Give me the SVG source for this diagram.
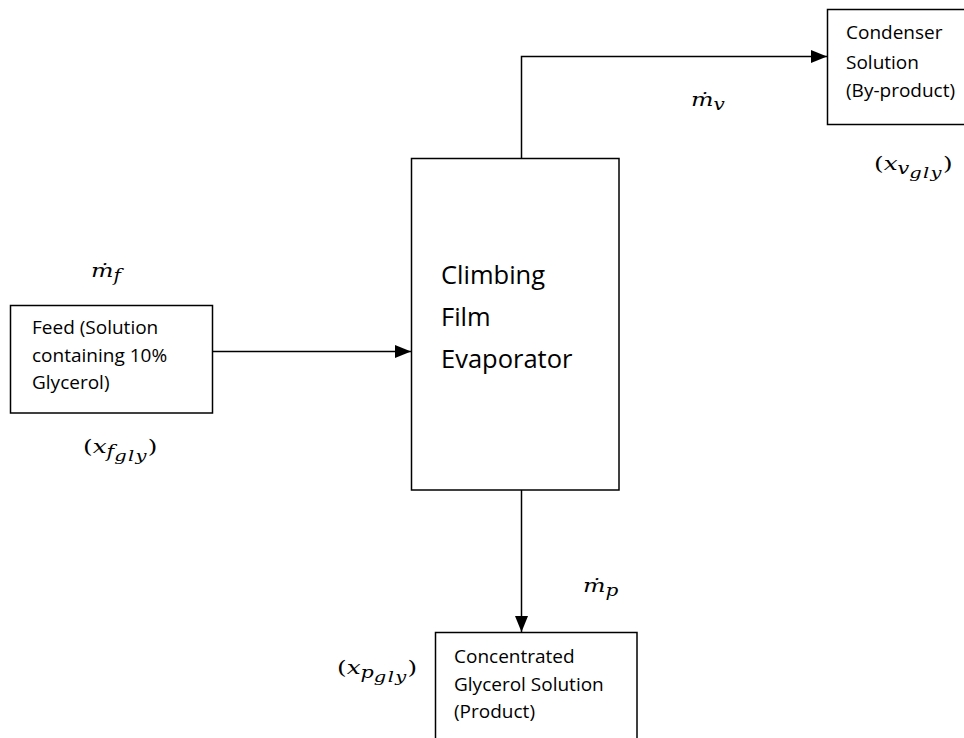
<svg xmlns="http://www.w3.org/2000/svg" width="964" height="738" viewBox="0 0 964 738">
<style>
.box{fill:#fff;stroke:#000;stroke-width:1.5}
.line{fill:none;stroke:#000;stroke-width:1.5}
.t{font-family:"Open Sans","Liberation Sans",sans-serif;font-size:19px;fill:#000}
.big{font-size:25.5px}
.m{font-family:"DejaVu Serif","Liberation Serif",serif;font-style:italic;font-size:19px;fill:#000}
.up{font-style:normal}
.s{font-size:16px}
.ss{font-size:15px;letter-spacing:1px}
</style>
<defs>
<marker id="ah" viewBox="0 0 16 13" refX="16" refY="6.5" markerWidth="16" markerHeight="13" markerUnits="userSpaceOnUse" orient="auto">
<path d="M0,0 L16,6.5 L0,13 Z" fill="#000"/>
</marker>
</defs>
<rect width="964" height="738" fill="#fff"/>
<g id="connectors">
<path class="line" d="M521.5,158 V56.5 H827" marker-end="url(#ah)"/>
<path class="line" d="M213,351.5 H411" marker-end="url(#ah)"/>
<path class="line" d="M521.5,490 V632" marker-end="url(#ah)"/>
</g>
<g id="feed">
<rect class="box" x="10.5" y="305.5" width="202" height="107.5"/>
<text class="t"><tspan x="32" y="334">Feed (Solution</tspan><tspan x="32" y="362">containing 10%</tspan><tspan x="32" y="389">Glycerol)</tspan></text>
</g>
<g id="evaporator">
<rect class="box" x="411.5" y="158.5" width="207.5" height="331.5"/>
<text class="t big"><tspan x="441" y="284">Climbing</tspan><tspan x="441" y="326">Film</tspan><tspan x="441" y="368">Evaporator</tspan></text>
</g>
<g id="condenser">
<rect class="box" x="827.5" y="9.5" width="150" height="115"/>
<text class="t"><tspan x="846" y="39">Condenser</tspan><tspan x="846" y="69">Solution</tspan><tspan x="846" y="97">(By-product)</tspan></text>
</g>
<g id="product">
<rect class="box" x="435.5" y="632.5" width="201.5" height="120"/>
<text class="t"><tspan x="454" y="663">Concentrated</tspan><tspan x="454" y="691">Glycerol Solution</tspan><tspan x="454" y="718">(Product)</tspan></text>
</g>
<g id="labels">
<text class="m" transform="translate(91,277) scale(1.25,1)">ṁ<tspan class="s" dy="4">f</tspan></text>
<text class="m" transform="translate(691,106) scale(1.25,1)">ṁ<tspan class="s" dy="4">v</tspan></text>
<text class="m" transform="translate(583,592) scale(1.25,1)">ṁ<tspan class="s" dy="4">p</tspan></text>
<text class="m" transform="translate(83,453) scale(1.3,1)"><tspan class="up">(</tspan>x<tspan class="s" dy="4">f</tspan><tspan class="ss" dy="4">gly</tspan><tspan class="up" dy="-8">)</tspan></text>
<text class="m" transform="translate(874,170) scale(1.3,1)"><tspan class="up">(</tspan>x<tspan class="s" dy="4">v</tspan><tspan class="ss" dy="4">gly</tspan><tspan class="up" dy="-8">)</tspan></text>
<text class="m" transform="translate(337,674) scale(1.3,1)"><tspan class="up">(</tspan>x<tspan class="s" dy="4">p</tspan><tspan class="ss" dy="4">gly</tspan><tspan class="up" dy="-8">)</tspan></text>
</g>
</svg>
